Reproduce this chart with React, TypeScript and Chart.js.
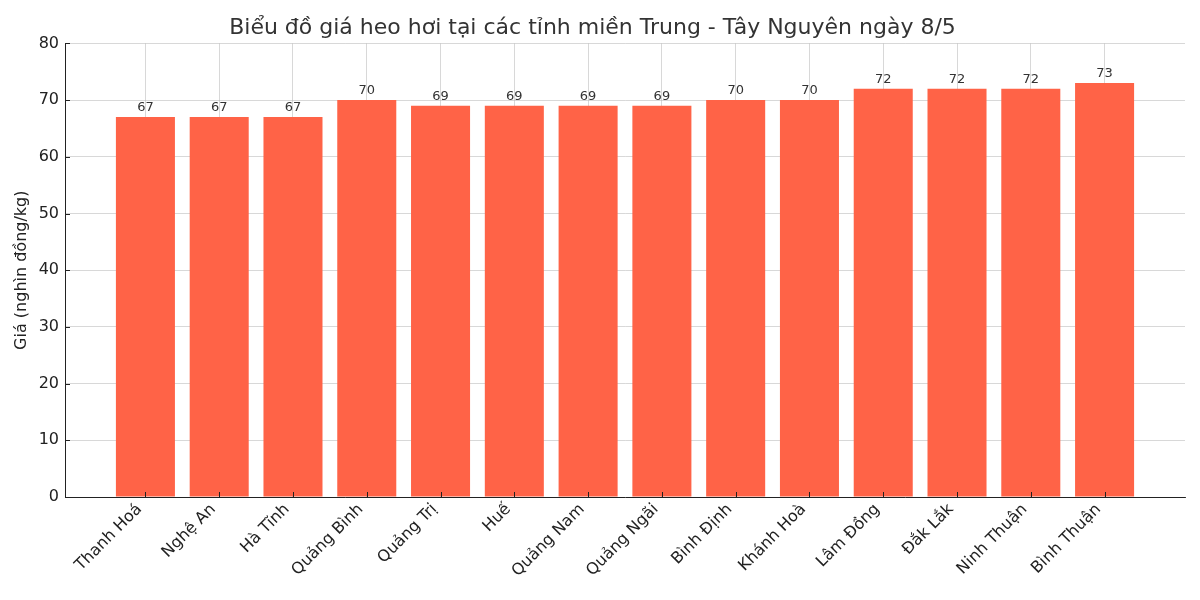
import { useEffect, useRef } from "react"
import Chart from "chart.js/auto"

const provinces = [
  "Thanh Hoá",
  "Nghệ An",
  "Hà Tĩnh",
  "Quảng Bình",
  "Quảng Trị",
  "Huế",
  "Quảng Nam",
  "Quảng Ngãi",
  "Bình Định",
  "Khánh Hoà",
  "Lâm Đồng",
  "Đắk Lắk",
  "Ninh Thuận",
  "Bình Thuận",
]
const prices = [67, 67, 67, 70, 69, 69, 69, 69, 70, 70, 72, 72, 72, 73]
const yTicks = [0, 10, 20, 30, 40, 50, 60, 70, 80]

const FONT = "'DejaVu Sans', sans-serif"

// writes the value above each bar
const valueLabels = {
  id: "valueLabels",
  afterDatasetsDraw(chart: Chart) {
    const ctx = chart.ctx
    const meta = chart.getDatasetMeta(0)
    ctx.save()
    ctx.font = `13px ${FONT}`
    ctx.fillStyle = "#333"
    ctx.textAlign = "center"
    ctx.textBaseline = "alphabetic"
    meta.data.forEach((bar: any, i: number) => {
      ctx.fillText(String(prices[i]), bar.x, bar.y - 6)
    })
    ctx.restore()
  },
}

// matplotlib-like ticks pointing into the plot
const innerTicks = {
  id: "innerTicks",
  afterDraw(chart: Chart) {
    const ctx = chart.ctx
    const { x, y } = chart.scales as any
    const area = chart.chartArea
    ctx.save()
    ctx.strokeStyle = "#222"
    ctx.lineWidth = 1
    ctx.beginPath()
    provinces.forEach((_, i) => {
      const px = Math.round(x.getPixelForValue(i)) + 0.5
      ctx.moveTo(px, area.bottom)
      ctx.lineTo(px, area.bottom - 5)
    })
    yTicks.forEach((v) => {
      const py = Math.round(y.getPixelForValue(v)) + 0.5
      ctx.moveTo(area.left, py)
      ctx.lineTo(area.left + 5, py)
    })
    ctx.stroke()
    ctx.restore()
  },
}

export default function App() {
  const canvasRef = useRef<HTMLCanvasElement>(null)
  const chartInstance = useRef<Chart | null>(null)

  useEffect(() => {
    document.body.style.margin = "0"
    if (!canvasRef.current) return
    if (chartInstance.current) chartInstance.current.destroy()

    const grid = {
      color: "rgba(180,180,180,0.65)",
      lineWidth: 0.8,
      borderDash: [4, 3],
      drawTicks: false,
      offset: false,
    }

    chartInstance.current = new Chart(canvasRef.current, {
      type: "bar",
      data: {
        datasets: [
          {
            data: prices.map((v, i) => ({ x: i, y: v })),
            backgroundColor: "#FF6347",
            borderWidth: 0,
            barPercentage: 0.8,
            categoryPercentage: 1,
          },
        ],
      },
      options: {
        animation: false,
        responsive: false,
        layout: { padding: { top: 0, right: 15, left: 0, bottom: 0 } },
        plugins: {
          legend: { display: false },
          tooltip: { enabled: false },
          title: {
            display: true,
            text: "Biểu đồ giá heo hơi tại các tỉnh miền Trung - Tây Nguyên ngày 8/5",
            color: "#333",
            font: { family: FONT, size: 22, weight: "normal" },
            padding: { top: 15, bottom: 2 },
          },
        },
        scales: {
          x: {
            type: "linear",
            min: -1.09,
            max: 14.09,
            offset: false,
            z: 1,
            grid,
            border: { display: true, color: "#222", width: 1 },
            afterBuildTicks: (axis: any) => {
              axis.ticks = provinces.map((_, i) => ({ value: i }))
            },
            afterFit: (axis: any) => {
              axis.height = 103
            },
            ticks: {
              autoSkip: false,
              minRotation: 45,
              maxRotation: 45,
              padding: 3,
              labelOffset: -6,
              color: "#222",
              font: { family: FONT, size: 16 },
              callback: (v: any) => provinces[v] ?? "",
            },
          },
          y: {
            min: 0,
            max: 80,
            z: 1,
            grid,
            border: { display: true, color: "#222", width: 1 },
            afterBuildTicks: (axis: any) => {
              axis.ticks = yTicks.map((v) => ({ value: v }))
            },
            afterFit: (axis: any) => {
              axis.width = 65
            },
            ticks: {
              padding: 6,
              color: "#222",
              font: { family: FONT, size: 16 },
            },
            title: {
              display: true,
              text: "Giá (nghìn đồng/kg)",
              color: "#222",
              font: { family: FONT, size: 16 },
              padding: { top: 12, bottom: 0 },
            },
          },
        },
      },
      plugins: [valueLabels, innerTicks],
    })

    return () => {
      if (chartInstance.current) {
        chartInstance.current.destroy()
        chartInstance.current = null
      }
    }
  }, [])

  return (
    <div style={{ width: 1200, height: 600, background: "#fff" }}>
      <canvas ref={canvasRef} width={1200} height={600} />
    </div>
  )
}
